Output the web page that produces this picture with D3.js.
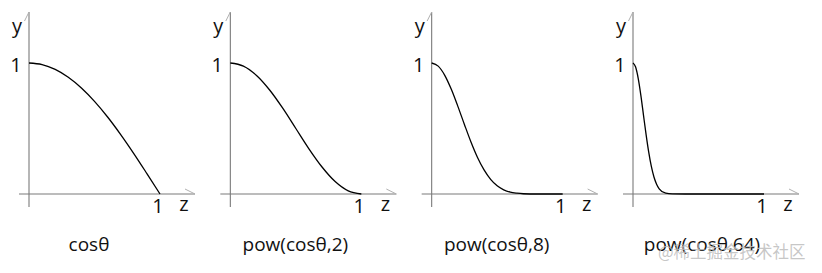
<!DOCTYPE html>
<html lang="en">
<head>
<meta charset="utf-8">
<title>cos powers</title>
<script src="https://d3js.org/d3.v7.min.js"></script>
<style>
  body { margin: 0; background: #fff; }
  text { font-family: "Open Sans", "Noto Sans", sans-serif; fill: #111; }
</style>
</head>
<body>
<script>
// values
var captions = ["cosθ", "pow(cosθ,2)", "pow(cosθ,8)", "pow(cosθ,64)"];

var z1 = [0, 0.1, 0.2, 0.3, 0.4, 0.5, 0.6, 0.7, 0.8, 0.9, 1];
var y1 = [1, 0.988, 0.951, 0.891, 0.809, 0.707, 0.588, 0.454, 0.309, 0.156, 0];

var z2 = [0, 0.1, 0.2, 0.3, 0.4, 0.5, 0.6, 0.7, 0.8, 0.9, 1];
var y2 = [1, 0.976, 0.905, 0.794, 0.655, 0.5, 0.345, 0.206, 0.095, 0.024, 0];

var z8 = [0, 0.05, 0.1, 0.15, 0.2, 0.25, 0.3, 0.35, 0.4, 0.45, 0.5, 0.55, 0.6, 0.65, 0.7, 0.8, 0.9, 1];
var y8 = [1, 0.976, 0.906, 0.799, 0.669, 0.531, 0.397, 0.279, 0.184, 0.112, 0.063, 0.032, 0.014, 0.006, 0.002, 0, 0, 0];

var z64 = [0, 0.02, 0.04, 0.06, 0.08, 0.1, 0.12, 0.14, 0.16, 0.18, 0.2, 0.25, 0.3, 0.4, 1];
var y64 = [1, 0.969, 0.881, 0.753, 0.602, 0.453, 0.319, 0.21, 0.13, 0.075, 0.04, 0.006, 0.001, 0, 0];

var series = [[z1, y1], [z2, y2], [z8, y8], [z64, y64]];

var width = 822,
    height = 273;

var svg = d3.select("body").append("svg")
    .attr("width", width)
    .attr("height", height);

// left edge (y axis) of each panel
var panelX = d3.scaleLinear().domain([0, 3]).range([29, 633]);
var capDx = [60, 65, 65, 69];

series.forEach(function(s, i) {
  var ox = panelX(i);
  var x = d3.scaleLinear().domain([0, 1]).range([ox, ox + 131]);
  var y = d3.scaleLinear().domain([0, 1]).range([194, 63]);
  var g = svg.append("g");

  // axes
  g.append("line").attr("x1", ox - 10).attr("x2", ox + 166)
    .attr("y1", y(0)).attr("y2", y(0))
    .attr("stroke", "#7a7a7a").attr("stroke-width", 1.1);
  g.append("line").attr("x1", ox).attr("x2", ox)
    .attr("y1", 12).attr("y2", 207)
    .attr("stroke", "#7a7a7a").attr("stroke-width", 1.1);
  // half arrow heads
  g.append("line").attr("x1", ox - 4.5).attr("y1", 21).attr("x2", ox).attr("y2", 12)
    .attr("stroke", "#b0b0b0").attr("stroke-width", 1);
  g.append("line").attr("x1", ox + 156).attr("y1", y(0) - 5).attr("x2", ox + 166).attr("y2", y(0))
    .attr("stroke", "#b0b0b0").attr("stroke-width", 1);

  // labels
  g.append("text").attr("x", ox - 12).attr("y", 33).attr("text-anchor", "middle")
    .style("font-size", "20px").text("y");
  g.append("text").attr("x", ox - 13).attr("y", 72).attr("text-anchor", "middle")
    .style("font-size", "20px").text("1");
  g.append("text").attr("x", x(1) - 2).attr("y", 213).attr("text-anchor", "middle")
    .style("font-size", "20px").text("1");
  g.append("text").attr("x", ox + 155).attr("y", 211).attr("text-anchor", "middle")
    .style("font-size", "20px").text("z");

  // curve
  var line = d3.line()
    .x(function(d) { return x(d[0]); })
    .y(function(d) { return y(d[1]); })
    .curve(d3.curveMonotoneX);
  g.append("path")
    .datum(d3.zip(s[0], s[1]))
    .attr("d", line)
    .attr("fill", "none")
    .attr("stroke", "#000")
    .attr("stroke-width", 1.3);

  g.append("text").attr("x", ox + capDx[i]).attr("y", 251).attr("text-anchor", "middle")
    .style("font-size", "19px").text(captions[i]);
});

// watermark
svg.append("text").attr("x", 658).attr("y", 258)
  .style("font-family", "'Noto Sans CJK SC', sans-serif")
  .style("font-size", "16.5px")
  .style("fill", "#bdbdbd").style("fill-opacity", 0.85)
  .text("@稀土掘金技术社区");
</script>
</body>
</html>
